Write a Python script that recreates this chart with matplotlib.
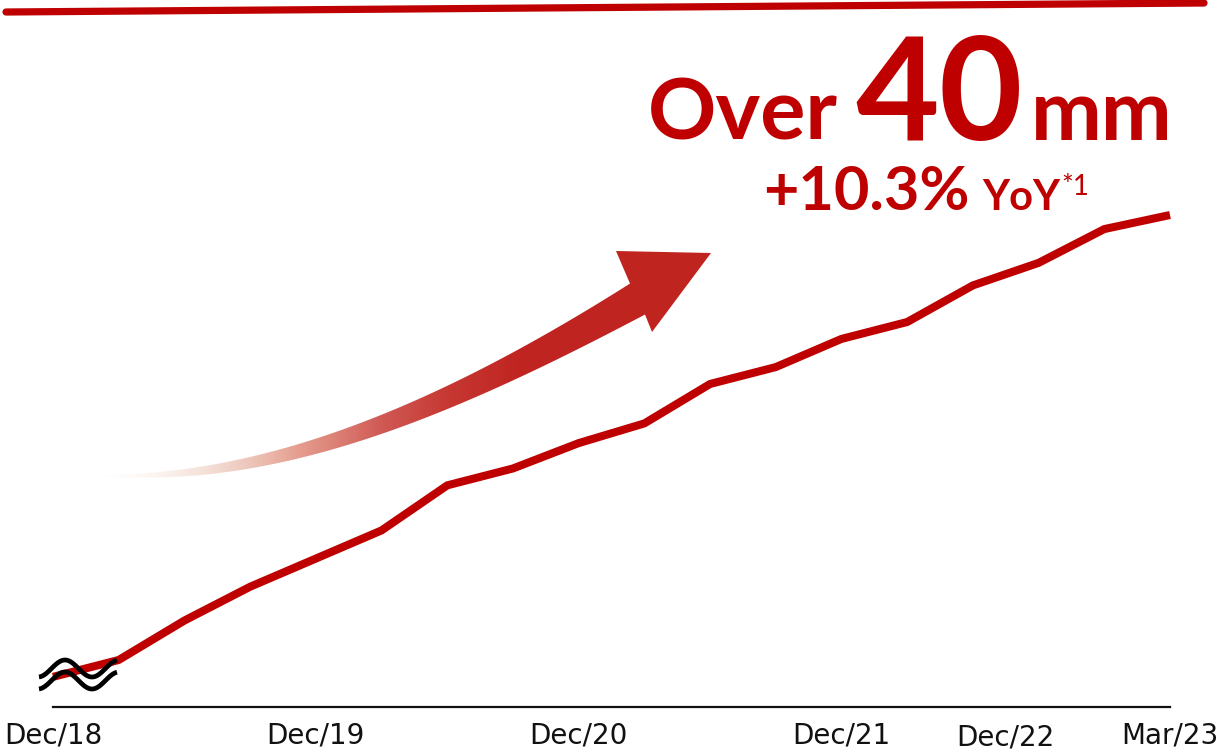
import numpy as np
import matplotlib
matplotlib.use("Agg")
import matplotlib.pyplot as plt
from matplotlib import transforms
from matplotlib.patches import Polygon

# ---------------- data ----------------
quarters = ['Dec/18', 'Mar/19', 'Jun/19', 'Sep/19', 'Dec/19', 'Mar/20', 'Jun/20',
            'Sep/20', 'Dec/20', 'Mar/21', 'Jun/21', 'Sep/21', 'Dec/21', 'Mar/22',
            'Jun/22', 'Sep/22', 'Dec/22', 'Mar/23']
members_mm = [24.1, 24.7, 26.1, 27.3, 28.3, 29.3, 30.9, 31.5, 32.4, 33.1,
              34.5, 35.1, 36.1, 36.7, 38.0, 38.8, 40.0, 40.5]
tick_labels = ['Dec/18', 'Dec/19', 'Dec/20', 'Dec/21', 'Dec/22', 'Mar/23']
tick_positions = [0, 4, 8, 12, 14.5, 17]
headline_big = ['Over', '40', 'mm']
headline_sub = ['+10.3%', 'YoY', '*1']

RED = '#BF0000'

W, H = 1217, 750
fig = plt.figure(figsize=(W / 100, H / 100), dpi=100)
fig.patch.set_facecolor('white')

# background / decoration axes in pixel coordinates
bg = fig.add_axes([0, 0, 1, 1], zorder=0)
bg.axis('off')

# ---------------- gradient arrow (decoration) ----------------
ux = [100, 213, 313, 410, 467, 533, 600, 630]
uy = [475, 463, 442, 402, 375, 342, 303, 283]
lx = [100, 213, 313, 410, 467, 533, 600, 645]
ly = [476, 472, 457, 423, 400, 372, 337, 315]
xu = np.linspace(100, 630, 200)
xl = np.linspace(100, 645, 200)
pu = np.polyfit(ux, uy, 3)
pl = np.polyfit(lx, ly, 3)
upper = np.column_stack([xu, np.polyval(pu, xu)])
lower = np.column_stack([xl, np.polyval(pl, xl)])
head = np.array([[616, 251], [711, 253], [652, 332]])
verts = np.vstack([upper, head, lower[::-1]])

gx = np.linspace(90, 720, 631)
stops_x = [100, 160, 220, 300, 380, 450, 520, 720]
stops_r = [245, 240, 235, 226, 208, 198, 192, 192]
stops_g = [230, 215, 195, 145, 90, 55, 37, 36]
stops_b = [220, 200, 180, 128, 85, 50, 33, 31]
stops_a = [0.0, 0.3, 0.65, 0.9, 1.0, 1.0, 1.0, 1.0]
img = np.zeros((2, len(gx), 4))
img[:, :, 0] = np.interp(gx, stops_x, stops_r)[None, :] / 255
img[:, :, 1] = np.interp(gx, stops_x, stops_g)[None, :] / 255
img[:, :, 2] = np.interp(gx, stops_x, stops_b)[None, :] / 255
img[:, :, 3] = np.interp(gx, stops_x, stops_a)[None, :]
im = bg.imshow(img, extent=(90, 720, 500, 240), aspect='auto',
               interpolation='bilinear', zorder=1)
clip = Polygon(verts, closed=True, facecolor='none', edgecolor='none',
               transform=bg.transData)
bg.add_patch(clip)
im.set_clip_path(clip)

# top red rule
bg.plot([6, 1204], [12, 3], color=RED, lw=5.2, solid_capstyle='round', zorder=2)

# headline texts
bg.text(648, 140, headline_big[0], fontfamily='Lato', fontweight='bold',
        fontsize=61, color=RED, ha='left', va='baseline')
bg.text(855, 140, headline_big[1], fontfamily='Lato', fontweight='bold',
        fontsize=104, color=RED, ha='left', va='baseline')
bg.text(1031, 140, headline_big[2], fontfamily='Lato', fontweight='bold',
        fontsize=61, color=RED, ha='left', va='baseline')
bg.text(763, 210, headline_sub[0], fontfamily='Lato', fontweight='bold',
        fontsize=44, color=RED, ha='left', va='baseline')
bg.text(982, 210, headline_sub[1], fontfamily='Lato', fontweight='bold',
        fontsize=30, color=RED, ha='left', va='baseline')
bg.text(1061, 195, headline_sub[2], fontfamily='Lato',
        fontsize=20, color=RED, ha='left', va='baseline')

bg.set_xlim(0, W)
bg.set_ylim(H, 0)

# ---------------- main line axes ----------------
x0_px, x1_px = 53, 1170
yb_px, yt_px = 707, 215
ax = fig.add_axes([x0_px / W, (H - yb_px) / H, (x1_px - x0_px) / W,
                   (yb_px - yt_px) / H], zorder=1)
ax.patch.set_visible(False)
xs = np.arange(len(quarters))
ax.plot(xs, members_mm, color=RED, lw=5.8, solid_joinstyle='miter',
        solid_capstyle='butt', clip_on=False, zorder=3)
ax.set_xlim(0, len(quarters) - 1)
ax.set_ylim(23.03, 40.5)
for s in ['top', 'left', 'right']:
    ax.spines[s].set_visible(False)
ax.spines['bottom'].set_linewidth(1.6)
ax.spines['bottom'].set_color('#111111')
ax.set_xticks([])
ax.set_yticks([])

# x labels
trans = transforms.blended_transform_factory(ax.transData, bg.transData)
for pos, lab in zip(tick_positions, tick_labels):
    yb = 745.5 if lab == 'Dec/22' else 743.5
    ax.text(pos, yb, lab, transform=trans, ha='center', va='baseline',
            fontsize=20, fontfamily='DejaVu Sans', color='#111111', clip_on=False)

# axis break squiggle (decoration)
sx = np.linspace(39, 117, 120)
sy = 668.5 - 8.5 * np.sin(2 * np.pi * (sx - 51.5) / 54)
for off in (0, 12):
    ax.plot(sx, sy + off, color='black', lw=3.4, transform=bg.transData,
            clip_on=False, zorder=5, solid_capstyle='butt')

fig.savefig('out.png', dpi=100, facecolor='white')
